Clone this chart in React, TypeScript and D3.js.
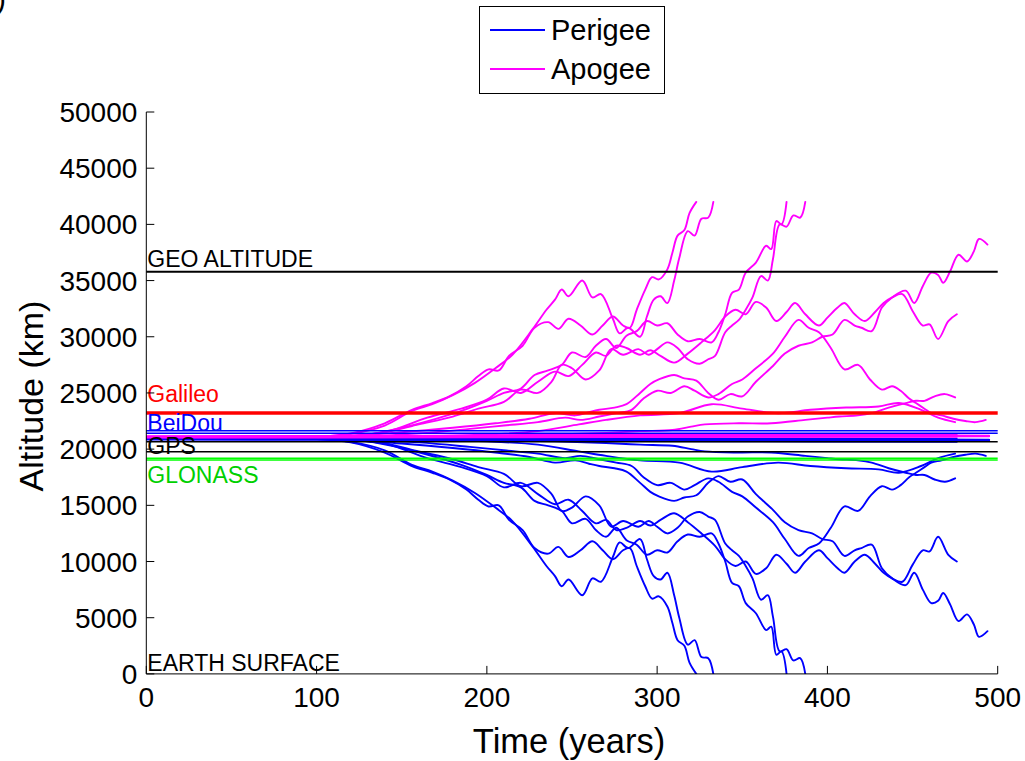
import React from 'react';
import * as d3 from 'd3';

// ---------- axes ----------
const xTickValues = [0, 100, 200, 300, 400, 500];
const yTickValues = [0, 5, 10, 15, 20, 25, 30, 35, 40, 45, 50]; // thousands of km
const yTickLabels = ['0', '5000', '10000', '15000', '20000', '25000', '30000', '35000', '40000', '45000', '50000'];

// ---------- reference altitudes (thousands of km) ----------
const refValues = [35.786, 23.222, 21.64, 21.41, 20.66, 19.77, 19.18, 19.03];
const refColors = ['#000000', '#ff0000', '#0000ff', '#0000ff', '#000000', '#000000', '#00ff00', '#00ff00'];
const refWidths = [2, 3.5, 1.5, 1.5, 1.5, 1.5, 1.5, 1.5];

const labelTexts = ['GEO ALTITUDE', 'Galileo', 'BeiDou', 'GPS', 'GLONASS', 'EARTH SURFACE'];
const labelValues = [36.2, 24.2, 21.6, 19.55, 16.95, 0.25];
const labelColors = ['#000000', '#ff0000', '#0000ff', '#000000', '#00d000', '#000000'];

// ---------- satellites: [time (years), apogee (10^3 km), perigee (10^3 km)] ----------
const sat01 = [[0,21.05,20.95],[100,21.1,20.9],[120,21.4,20.6],[140,22.3,19.7],[156,23.5,18.5],[168,24.1,17.9],[178,24.7,17.3],[188,25.6,16.4],[195,26.5,15.5],[201,27.1,14.9],[207,27.0,15.0],[213,28.3,13.7],[221,29.2,12.8],[228,30.8,11.2],[236,31.3,10.7],[242,30.7,11.3],[248,31.6,10.4],[255,31.0,11.0],[262,30.2,11.8],[268,31.0,11.0],[274,31.8,10.2],[280,31.0,11.0],[284,30.8,11.2],[288,32.4,9.6],[293,34.2,7.8],[297,35.3,6.7],[301,35.1,6.9],[306,36.0,6.0],[309,37.5,4.5],[312,39.0,3.0],[316,39.5,2.5],[319,41.0,1.0],[323,42.0,0.0]];
const sat02 = [[0,21.05,20.95],[100,21.1,20.9],[120,21.35,20.65],[140,22.1,19.9],[156,23.4,18.6],[168,24.0,18.0],[180,24.8,17.2],[193,25.9,16.1],[205,27.2,14.8],[215,28.4,13.6],[227,30.7,11.3],[235,32.4,9.6],[240,33.3,8.7],[244,34.2,7.8],[248,33.6,8.4],[256,35.0,7.0],[262,33.5,8.5],[267,33.8,8.2],[274,31.6,10.4],[278,30.3,11.7],[283,30.8,11.2],[290,30.0,12.0],[294,31.8,10.2],[298,33.3,8.7],[302,33.6,8.4],[306,33.0,9.0],[310,35.0,7.0],[313,37.0,5.0],[318,39.4,2.6],[322,39.0,3.0],[326,40.5,1.5],[330,40.6,1.4],[333,42.0,0.0]];
const sat03 = [[0,21.05,20.95],[110,21.1,20.9],[130,21.3,20.7],[150,21.9,20.1],[170,22.7,19.3],[185,23.4,18.6],[200,24.3,17.7],[210,25.0,17.0],[220,25.4,16.6],[228,26.6,15.4],[236,27.0,15.0],[244,27.5,14.5],[250,28.6,13.4],[258,28.2,13.8],[264,29.2,12.8],[270,29.8,12.2],[276,29.0,13.0],[282,30.1,11.9],[288,30.5,11.5],[294,31.4,10.6],[300,31.0,11.0],[306,31.2,10.8],[312,30.2,11.8],[318,29.6,12.4],[325,29.8,12.2],[332,29.5,12.5],[336,30.4,11.6],[340,32.0,10.0],[344,33.9,8.1],[348,34.2,7.8],[352,35.7,6.3],[358,36.6,5.4],[364,38.1,3.9],[367,37.8,4.2],[370,40.3,1.7],[373,40.0,2.0],[376,42.0,0.0]];
const sat04 = [[0,21.05,20.95],[110,21.1,20.9],[140,21.5,20.5],[160,22.2,19.8],[180,22.9,19.1],[195,23.6,18.4],[210,24.2,17.8],[220,25.3,16.7],[230,25.0,17.0],[238,26.0,16.0],[244,27.5,14.5],[250,27.2,14.8],[258,26.2,15.8],[266,27.0,15.0],[273,28.9,13.1],[280,28.4,13.6],[289,28.9,13.1],[295,28.4,13.6],[300,28.9,13.1],[306,29.5,12.5],[312,29.0,13.0],[318,28.0,14.0],[325,27.6,14.4],[330,28.0,14.0],[334,28.3,13.7],[340,30.4,11.6],[344,31.0,11.0],[348,31.5,10.5],[352,32.4,9.6],[356,33.5,8.5],[361,35.4,6.6],[365,35.0,7.0],[368,36.9,5.1],[372,40.0,2.0],[376,39.8,2.2],[380,40.8,1.2],[384,40.6,1.4],[387,42.0,0.0]];
const sat05 = [[0,21.05,20.95],[110,21.1,20.9],[150,21.5,20.5],[180,21.9,20.1],[205,22.3,19.7],[225,22.7,19.3],[240,23.2,18.8],[252,23.0,19.0],[260,23.3,18.7],[266,23.5,18.5],[275,23.7,18.3],[282,24.0,18.0],[290,25.0,17.0],[296,25.8,16.2],[301,26.2,15.8],[310,26.6,15.4],[316,26.3,15.7],[323,26.1,15.9],[330,25.0,17.0],[336,24.4,17.6],[343,24.9,17.1],[350,24.7,17.3],[358,26.0,16.0],[368,27.4,14.6],[375,28.5,13.5],[383,29.2,12.8],[391,29.5,12.5],[397,30.0,12.0],[403,30.2,11.8],[410,31.5,10.5],[416,31.0,11.0],[420,30.8,11.2],[426,30.5,11.5],[432,32.6,9.4],[438,33.5,8.5],[446,34.1,7.9],[451,33.0,9.0],[456,34.5,7.5],[461,35.7,6.3],[465,35.5,6.5],[468,34.8,7.2],[472,35.8,6.2],[477,37.3,4.7],[482,36.7,5.3],[486,37.6,4.4],[489,38.7,3.3],[494,38.2,3.8]];
const sat06 = [[0,21.05,20.95],[110,21.1,20.9],[140,21.5,20.5],[165,22.8,19.2],[185,23.6,18.4],[200,24.4,17.6],[210,25.4,16.6],[220,25.0,17.0],[230,26.0,16.0],[240,26.9,15.1],[248,26.5,15.5],[256,27.5,14.5],[264,28.6,13.4],[270,28.3,13.7],[276,29.2,12.8],[282,29.0,13.0],[290,28.4,13.6],[296,28.8,13.2],[302,28.3,13.7],[310,27.7,14.3],[318,28.5,13.5],[326,29.5,12.5],[334,30.6,11.4],[340,31.8,10.2],[346,32.4,9.6],[352,32.0,10.0],[358,33.1,8.9],[364,32.6,9.4],[370,31.4,10.6],[376,32.2,9.8],[381,33.0,9.0],[387,32.0,10.0],[395,31.0,11.0],[400,31.7,10.3],[406,32.6,9.4],[410,33.0,9.0],[416,32.0,10.0],[422,31.4,10.6],[428,32.2,9.8],[433,33.0,9.0],[438,33.5,8.5],[444,33.8,8.2],[450,32.3,9.7],[456,31.0,11.0],[460,31.1,10.9],[465,29.8,12.2],[471,31.4,10.6],[476,32.0,10.0]];
const sat07 = [[0,21.05,20.95],[120,21.1,20.9],[160,21.4,20.6],[190,21.8,20.2],[210,22.1,19.9],[230,22.4,19.6],[246,22.8,19.2],[255,22.6,19.4],[266,22.9,19.1],[276,23.2,18.8],[285,23.5,18.5],[292,24.5,17.5],[300,25.2,16.8],[308,25.0,17.0],[316,25.6,16.4],[322,25.2,16.8],[330,24.6,17.4],[336,24.9,17.1],[344,25.8,16.2],[350,26.2,15.8],[358,27.2,14.8],[368,28.5,13.5],[375,30.0,12.0],[383,31.5,10.5],[389,30.8,11.2],[395,30.4,11.6],[402,29.0,13.0],[410,27.1,14.9],[418,27.5,14.5],[425,26.2,15.8],[432,25.3,16.7],[438,25.6,16.4],[443,25.2,16.8],[448,24.5,17.5],[452,24.1,17.9],[457,23.6,18.4],[461,23.2,18.8],[467,23.0,19.0],[474,22.7,19.3],[481,22.5,19.5],[487,22.4,19.6],[493,22.6,19.4]];
const sat08 = [[0,21.05,20.95],[150,21.1,20.9],[200,21.2,20.8],[240,21.3,20.7],[270,21.45,20.55],[290,21.6,20.4],[309,21.7,20.3],[320,22.0,20.0],[328,22.2,19.8],[348,22.3,19.7],[367,22.3,19.7],[387,22.6,19.4],[400,22.8,19.2],[407,22.9,19.1],[418,23.0,19.0],[426,23.2,18.8],[436,23.7,18.3],[446,24.1,17.9],[452,24.3,17.7],[457,24.3,17.7],[463,24.7,17.3],[469,24.9,17.1],[475,24.6,17.4]];
const sat09 = [[0,21.05,20.95],[150,21.1,20.9],[200,21.3,20.7],[230,21.6,20.4],[254,22.2,19.8],[270,22.6,19.4],[290,23.0,19.0],[313,23.2,18.8],[332,24.0,18.0],[350,23.6,18.4],[371,23.2,18.8],[390,23.5,18.5],[411,23.7,18.3],[430,23.8,18.2],[442,24.1,17.9],[455,23.5,18.5],[465,22.8,19.2],[475,22.4,19.6]];
const sat10 = [[0,21.05,20.95],[120,21.05,20.95],[250,21.1,20.9],[380,21.1,20.9],[495,21.15,20.85]];
const sat11 = [[0,21.1,20.9],[150,21.15,20.85],[300,21.2,20.8],[420,21.25,20.75],[495,21.2,20.8]];
const sat12 = [[0,21.0,21.0],[200,21.05,20.95],[350,21.1,20.9],[476,21.1,20.9]];
const sat13 = [[0,21.15,20.85],[180,21.2,20.8],[330,21.3,20.7],[476,21.35,20.65]];

const satellites = [sat01, sat02, sat03, sat04, sat05, sat06, sat07, sat08, sat09, sat10, sat11, sat12, sat13];

const legendLabels = ['Perigee', 'Apogee'];
const legendColors = ['#0000ff', '#ff00ff'];

const FONT = 'Liberation Sans, Arial, Helvetica, sans-serif';

export default function App() {
  const x = d3.scaleLinear().domain([0, 500]).range([146.3, 997.7]);
  const y = d3.scaleLinear().domain([0, 50]).range([673.9, 112]);

  const apoLine = d3.line<number[]>().x(d => x(d[0])).y(d => y(d[1])).curve(d3.curveCatmullRom.alpha(0.5));
  const periLine = d3.line<number[]>().x(d => x(d[0])).y(d => y(d[2])).curve(d3.curveCatmullRom.alpha(0.5));

  const [x0, x1] = x.range();
  const y0 = y(0);
  const yTop = y(50);

  return (
    <div style={{ position: 'absolute', left: 0, top: 0 }}>
      <svg width={1025} height={761} style={{ display: 'block', background: '#fff', fontFamily: FONT }}>
        <defs>
          <clipPath id="plotClip">
            <rect x={x0} y={yTop - 2} width={x1 - x0 + 2} height={y0 - yTop + 2} />
          </clipPath>
        </defs>
        <text x={-4} y={9} fontSize={30} fill="#000">)</text>

        {/* satellites */}
        <g clipPath="url(#plotClip)" fill="none" strokeLinejoin="round" strokeLinecap="round">
          {satellites.map((s, i) => (
            <g key={i}>
              <path d={periLine(s) || ''} stroke="#0000ff" strokeWidth={1.9} />
              <path d={apoLine(s) || ''} stroke="#ff00ff" strokeWidth={1.9} />
            </g>
          ))}
        </g>

        {/* reference lines */}
        {refValues.map((v, i) => (
          <line key={i} x1={x0} x2={x1} y1={y(v)} y2={y(v)} stroke={refColors[i]} strokeWidth={refWidths[i]} />
        ))}

        {/* labels */}
        {labelTexts.map((t, i) => (
          <text key={t} x={x0 + 1} y={y(labelValues[i])} fontSize={23} fill={labelColors[i]}>{t}</text>
        ))}

        {/* axes */}
        <line x1={x0} x2={x0} y1={yTop} y2={y0} stroke="#000" strokeWidth={1} />
        <line x1={x0} x2={x1} y1={y0} y2={y0} stroke="#000" strokeWidth={1} />
        {yTickValues.map((v, i) => (
          <g key={v}>
            <line x1={x0} x2={x0 + 8} y1={y(v)} y2={y(v)} stroke="#000" />
            <text x={x0 - 9} y={y(v)} dy="0.36em" textAnchor="end" fontSize={28} fill="#000">{yTickLabels[i]}</text>
          </g>
        ))}
        {xTickValues.map(v => (
          <g key={v}>
            <line x1={x(v)} x2={x(v)} y1={y0} y2={y0 - 8} stroke="#000" />
            <text x={x(v)} y={707} textAnchor="middle" fontSize={28} fill="#000">{v}</text>
          </g>
        ))}
        <text x={569} y={753} textAnchor="middle" fontSize={34.5} fill="#000">Time (years)</text>
        <text transform="translate(43,396) rotate(-90)" textAnchor="middle" fontSize={34} fill="#000">Altitude (km)</text>

        {/* legend */}
        <rect x={479.5} y={6.5} width={185} height={87} fill="#fff" stroke="#000" strokeWidth={1} />
        {legendLabels.map((l, i) => (
          <g key={l}>
            <line x1={490} x2={545} y1={30 + i * 39} y2={30 + i * 39} stroke={legendColors[i]} strokeWidth={1.8} />
            <text x={551} y={40 + i * 39} fontSize={29} fill="#000">{l}</text>
          </g>
        ))}
      </svg>
    </div>
  );
}
